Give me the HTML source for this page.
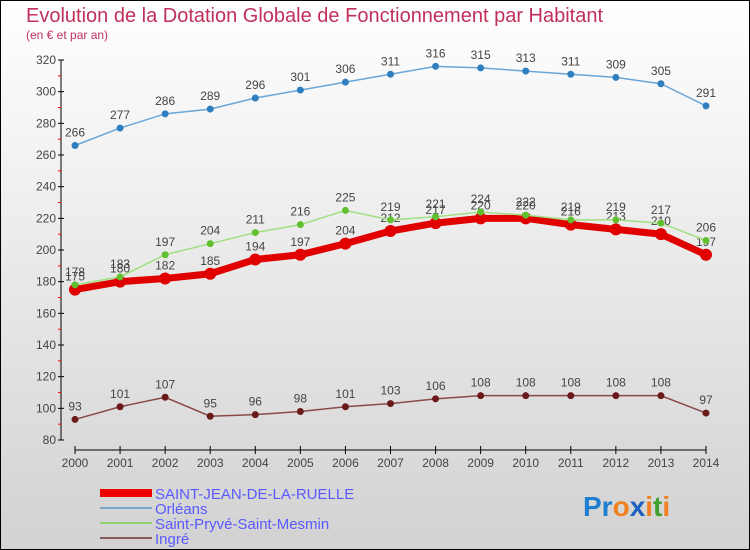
<!DOCTYPE html>
<html><head><meta charset="utf-8"><style>
body{margin:0;width:750px;height:550px;overflow:hidden;font-family:"Liberation Sans",sans-serif}
</style></head><body>
<svg width="750" height="550" style="display:block">
<defs><linearGradient id="bg" x1="0" y1="0" x2="0" y2="1"><stop offset="0" stop-color="#ffffff"/><stop offset="1" stop-color="#d2d2d2"/></linearGradient></defs>
<rect x="0.5" y="0.5" width="749" height="549" fill="url(#bg)" stroke="#000"/>
<text x="26" y="22" font-size="20" fill="#c0305a">Evolution de la Dotation Globale de Fonctionnement par Habitant</text>
<text x="26" y="39" font-size="12" fill="#c0305a">(en € et par an)</text>
<g id="axes"></g><g id="series"></g>
<g>
<rect x="100" y="489" width="52" height="8" fill="#e00"/>
<text x="155" y="499" font-size="15" fill="#5a5aff">SAINT-JEAN-DE-LA-RUELLE</text>
<line x1="100" x2="152" y1="508" y2="508" stroke="#7aa6c8" stroke-width="2"/>
<text x="155" y="514" font-size="15" fill="#5a5aff">Orléans</text>
<line x1="100" x2="152" y1="523" y2="523" stroke="#90d070" stroke-width="2"/>
<text x="155" y="529" font-size="15" fill="#5a5aff">Saint-Pryvé-Saint-Mesmin</text>
<line x1="100" x2="152" y1="538" y2="538" stroke="#8a5a5a" stroke-width="2"/>
<text x="155" y="544" font-size="15" fill="#5a5aff">Ingré</text>
</g>
<text x="583" y="516" font-size="28" font-weight="bold"><tspan fill="#1e7fd0">Pr</tspan><tspan fill="#f08020">o</tspan><tspan fill="#1e60c0">x</tspan><tspan fill="#f08020">i</tspan><tspan fill="#40a030">t</tspan><tspan fill="#f08020">i</tspan></text>
</svg>
<script>
const years=[2000,2001,2002,2003,2004,2005,2006,2007,2008,2009,2010,2011,2012,2013,2014];
const yTicks=[80,100,120,140,160,180,200,220,240,260,280,300,320];
const sjValues=[175,180,182,185,194,197,204,212,217,220,220,216,213,210,197];
const orleansValues=[266,277,286,289,296,301,306,311,316,315,313,311,309,305,291];
const pryveValues=[178,183,197,204,211,216,225,219,221,224,222,219,219,217,206];
const ingreValues=[93,101,107,95,96,98,101,103,106,108,108,108,108,108,97];
const NS="http://www.w3.org/2000/svg";
const X=i=>75+i*(706-75)/14;
const Y=v=>440-(v-80)*380/240;
function mk(t,a,p){const e=document.createElementNS(NS,t);for(const k in a)e.setAttribute(k,a[k]);p.appendChild(e);return e;}
const ax=document.getElementById('axes');
mk('line',{x1:61,x2:61,y1:60,y2:440,stroke:'#000'},ax);
mk('line',{x1:75,x2:706,y1:450,y2:450,stroke:'#000'},ax);
yTicks.forEach(v=>{const y=Y(v);
 mk('line',{x1:58,x2:64,y1:y,y2:y,stroke:'#000'},ax);
 if(v<320) mk('line',{x1:58,x2:61,y1:y-15.8,y2:y-15.8,stroke:'#f00'},ax);
 const t=mk('text',{x:56,y:y+4,'font-size':12,fill:'#444','text-anchor':'end'},ax);t.textContent=v;
 
 });
years.forEach((yr,i)=>{const x=X(i);
 mk('line',{x1:x,x2:x,y1:446,y2:454,stroke:'#000'},ax);
 const t=mk('text',{x:x,y:467,'font-size':12,fill:'#444','text-anchor':'middle'},ax);t.textContent=yr;
 
 });
const sg=document.getElementById('series');
function series(vals,color,dot,w,r,name){
 const g=mk('g',{},sg);
 
 
 mk('polyline',{points:vals.map((v,i)=>X(i)+','+Y(v)).join(' '),fill:'none',stroke:color,'stroke-width':w},g);
 vals.forEach((v,i)=>{const c=mk('circle',{cx:X(i),cy:Y(v),r:r,fill:dot},g);
  
  
  const t=mk('text',{x:X(i),y:Y(v)-9,'font-size':12,fill:'#444','text-anchor':'middle'},g);t.textContent=v;
  
  });
}
series(orleansValues,'#6aa6d8','#2f7fc0',1.5,3.5,'series-orleans');
series(ingreValues,'#8a4a4a','#6a1a1a',1.5,3.5,'series-ingre');
series(sjValues,'#e00000','#e00000',7,6,'series-saint-jean');
series(pryveValues,'#a0e080','#60c030',1.5,3.5,'series-saint-pryve');
</script>
</body></html>
